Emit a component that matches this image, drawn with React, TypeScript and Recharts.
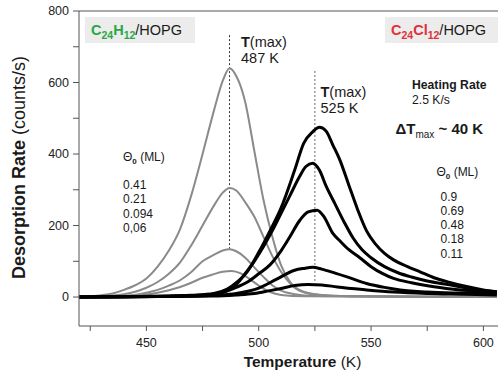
import React from 'react';
import { LineChart, Line, XAxis, YAxis, ReferenceLine } from 'recharts';

// C24H12/HOPG traces (grey), coverages 0.41, 0.21, 0.094, 0.06 ML
const tempG1 = [420, 425, 430, 435, 440, 445, 450, 455, 460, 465, 470, 475, 480, 484, 487, 490, 494, 498, 502, 506, 510, 514, 520, 530, 545, 606];
const rateG1 = [0, 2, 5, 10, 20, 33, 52, 85, 130, 190, 285, 400, 520, 605, 640, 618, 545, 410, 275, 170, 88, 42, 15, 5, 2, 0];
const tempG2 = [420, 430, 440, 445, 450, 455, 460, 465, 470, 475, 480, 484, 487, 490, 494, 498, 502, 506, 510, 514, 518, 525, 540, 606];
const rateG2 = [0, 2, 8, 15, 26, 42, 65, 97, 145, 200, 255, 292, 305, 298, 265, 225, 170, 115, 70, 38, 18, 7, 2, 0];
const tempG3 = [420, 440, 450, 455, 460, 465, 470, 475, 480, 484, 487, 490, 494, 498, 502, 506, 510, 516, 525, 606];
const rateG3 = [0, 3, 12, 20, 32, 47, 70, 100, 118, 130, 134, 128, 110, 83, 57, 33, 18, 8, 3, 0];
const tempG4 = [420, 445, 450, 455, 460, 465, 470, 475, 480, 484, 488, 492, 496, 500, 505, 510, 520, 606];
const rateG4 = [0, 4, 7, 12, 19, 28, 40, 54, 64, 71, 73, 66, 50, 32, 14, 6, 2, 0];

// C24Cl12/HOPG traces (black), coverages 0.9, 0.69, 0.48, 0.18, 0.11 ML
const tempB1 = [420, 440, 460, 470, 480, 486, 490, 495, 500, 505, 510, 516, 520, 524, 527, 530, 533, 536, 540, 544, 548, 552, 556, 560, 566, 572, 578, 585, 592, 600, 606];
const rateB1 = [0, 0, 2, 5, 10, 22, 40, 72, 125, 185, 250, 355, 430, 462, 475, 464, 425, 385, 315, 245, 185, 148, 122, 104, 86, 70, 54, 41, 30, 20, 15];
const tempB2 = [420, 460, 470, 480, 486, 490, 494, 498, 502, 506, 510, 514, 518, 521, 524, 527, 530, 534, 538, 542, 546, 550, 556, 562, 568, 575, 585, 595, 606];
const rateB2 = [0, 2, 4, 8, 18, 35, 66, 100, 140, 185, 235, 285, 335, 365, 374, 355, 310, 260, 210, 165, 132, 110, 85, 68, 56, 45, 34, 22, 14];
const tempB3 = [420, 460, 475, 485, 490, 495, 500, 505, 510, 514, 518, 522, 526, 529, 533, 536, 540, 545, 550, 555, 560, 568, 578, 590, 606];
const rateB3 = [0, 2, 5, 15, 27, 42, 65, 90, 130, 170, 212, 238, 243, 225, 178, 158, 133, 110, 85, 66, 52, 40, 29, 20, 13];
const tempB4 = [420, 470, 480, 490, 500, 508, 516, 520, 524, 528, 534, 540, 548, 556, 563, 575, 590, 606];
const rateB4 = [0, 2, 5, 10, 25, 50, 75, 80, 83, 78, 67, 55, 38, 27, 20, 14, 11, 9];
const tempB5 = [420, 480, 490, 498, 505, 510, 516, 522, 528, 535, 548, 560, 575, 590, 606];
const rateB5 = [0, 3, 6, 10, 18, 24, 32, 35, 34, 28, 20, 14, 10, 8, 6];

const xTicks = [425, 450, 475, 500, 525, 550, 575, 600];
const xLabelled = [450, 500, 550, 600];
const yTicks = [0, 100, 200, 300, 400, 500, 600, 700, 800];
const yLabelled = [0, 200, 400, 600, 800];

const coverH = ['0.41', '0.21', '0.094', '0,06'];
const coverCl = ['0.9', '0.69', '0.48', '0.18', '0.11'];

const toPoints = (t: number[], v: number[]) => t.map((x, i) => ({ t: x, v: v[i] }));

const grey = [toPoints(tempG1, rateG1), toPoints(tempG2, rateG2), toPoints(tempG3, rateG3), toPoints(tempG4, rateG4)];
const black = [toPoints(tempB1, rateB1), toPoints(tempB2, rateB2), toPoints(tempB3, rateB3), toPoints(tempB4, rateB4), toPoints(tempB5, rateB5)];

const FONT = '"Liberation Sans", Arial, sans-serif';
const AXIS = '#555';

const XTick = (props: any) => {
  const { x, y, payload } = props;
  if (!xLabelled.includes(payload.value)) return <g />;
  return (
    <text x={x} y={y} dy="0.71em" textAnchor="middle" fontSize={12.5} fill="#222" fontFamily={FONT}>
      {payload.value}
    </text>
  );
};

const YTick = (props: any) => {
  const { x, y, payload } = props;
  if (!yLabelled.includes(payload.value)) return <g />;
  return (
    <text x={x} y={y} dy="0.355em" textAnchor="end" fontSize={12.5} fill="#222" fontFamily={FONT}>
      {payload.value}
    </text>
  );
};

export default function App() {
  return (
    <div style={{ position: 'absolute', left: 0, top: 0, width: 498, height: 376, background: '#fff' }}>
      <LineChart width={498} height={376} margin={{ top: 11, right: 0, bottom: 0, left: 0 }}>
        <XAxis
          dataKey="t"
          type="number"
          domain={[420, 606.5]}
          ticks={xTicks}
          tick={XTick}
          tickSize={5}
          tickMargin={7}
          height={50}
          stroke={AXIS}
          allowDataOverflow
        />
        <YAxis
          type="number"
          domain={[-81, 800]}
          ticks={yTicks}
          tick={YTick}
          tickSize={6}
          tickMargin={4}
          width={79}
          stroke={AXIS}
          allowDataOverflow
        />
        <ReferenceLine y={800} stroke={AXIS} />
        <ReferenceLine segment={[{ x: 487, y: 134 }, { x: 487, y: 733 }]} stroke="#333" strokeDasharray="2 2" />
        <ReferenceLine segment={[{ x: 525, y: 45 }, { x: 525, y: 635 }]} stroke="#666" strokeDasharray="2 2" />
        {grey.map((d, i) => (
          <Line key={'g' + i} data={d} dataKey="v" type="monotone" stroke="#8a8a8a" strokeWidth={2} dot={false} isAnimationActive={false} />
        ))}
        {black.map((d, i) => (
          <Line key={'b' + i} data={d} dataKey="v" type="monotone" stroke="#000" strokeWidth={3} dot={false} isAnimationActive={false} />
        ))}
      </LineChart>
      <svg width={498} height={376} style={{ position: 'absolute', left: 0, top: 0, pointerEvents: 'none' }} fontFamily={FONT}>
        <rect x={85} y={17} width={110} height={26} fill="#ececec" />
        <text x={91} y={35} fontSize={14.5} fill="#1a1a1a">
          <tspan fill="#27a844" fontWeight="bold">C</tspan>
          <tspan fill="#27a844" fontWeight="bold" fontSize={10.5} dy={4}>24</tspan>
          <tspan fill="#27a844" fontWeight="bold" dy={-4}>H</tspan>
          <tspan fill="#27a844" fontWeight="bold" fontSize={10.5} dy={4}>12</tspan>
          <tspan dy={-4}>/HOPG</tspan>
        </text>
        <rect x={385} y={17} width={113} height={26} fill="#ececec" />
        <text x={391} y={35} fontSize={14.5} fill="#1a1a1a">
          <tspan fill="#e0303a" fontWeight="bold">C</tspan>
          <tspan fill="#e0303a" fontWeight="bold" fontSize={10.5} dy={4}>24</tspan>
          <tspan fill="#e0303a" fontWeight="bold" dy={-4}>Cl</tspan>
          <tspan fill="#e0303a" fontWeight="bold" fontSize={10.5} dy={4}>12</tspan>
          <tspan dy={-4}>/HOPG</tspan>
        </text>

        <text x={241} y={46.5} fontSize={14.5} fill="#1a1a1a">
          <tspan fontWeight="bold">T</tspan>(max)
        </text>
        <text x={241} y={62.5} fontSize={14.5} fill="#1a1a1a">487 K</text>
        <text x={320.5} y={97} fontSize={14.5} fill="#1a1a1a">
          <tspan fontWeight="bold">T</tspan>(max)
        </text>
        <text x={320.5} y={113} fontSize={14.5} fill="#1a1a1a">525 K</text>

        <text x={412} y={89} fontSize={12.2} fontWeight="bold" fill="#1a1a1a">Heating Rate</text>
        <text x={412} y={104} fontSize={12.2} fill="#1a1a1a">2.5 K/s</text>
        <text x={395.5} y={134} fontSize={15} fontWeight="bold" fill="#1a1a1a">
          ΔT<tspan fontSize={10} fontWeight="normal" dy={4}>max</tspan>
          <tspan dy={-4}> ~ 40 K</tspan>
        </text>

        <text x={436.5} y={176} fontSize={12} fill="#1a1a1a">
          Θ<tspan fontSize={8} fontWeight="bold" dy={3}>0</tspan>
          <tspan dy={-3}> (ML)</tspan>
        </text>
        {coverCl.map((c, i) => (
          <text key={c} x={440.5} y={200.5 + i * 14.3} fontSize={12} fill="#1a1a1a">{c}</text>
        ))}
        <text x={123} y={161} fontSize={12} fill="#1a1a1a">
          Θ<tspan fontSize={8} fontWeight="bold" dy={3}>0</tspan>
          <tspan dy={-3}> (ML)</tspan>
        </text>
        {coverH.map((c, i) => (
          <text key={c} x={123} y={189 + i * 14.3} fontSize={12} fill="#1a1a1a">{c}</text>
        ))}

        <text x={302.5} y={367} fontSize={15.5} textAnchor="middle" fill="#1a1a1a">
          <tspan fontWeight="bold">Temperature</tspan> (K)
        </text>
        <text transform="translate(25,167.5) rotate(-90)" fontSize={18} textAnchor="middle" fill="#1a1a1a">
          <tspan fontWeight="bold">Desorption Rate</tspan> (counts/s)
        </text>
      </svg>
    </div>
  );
}
